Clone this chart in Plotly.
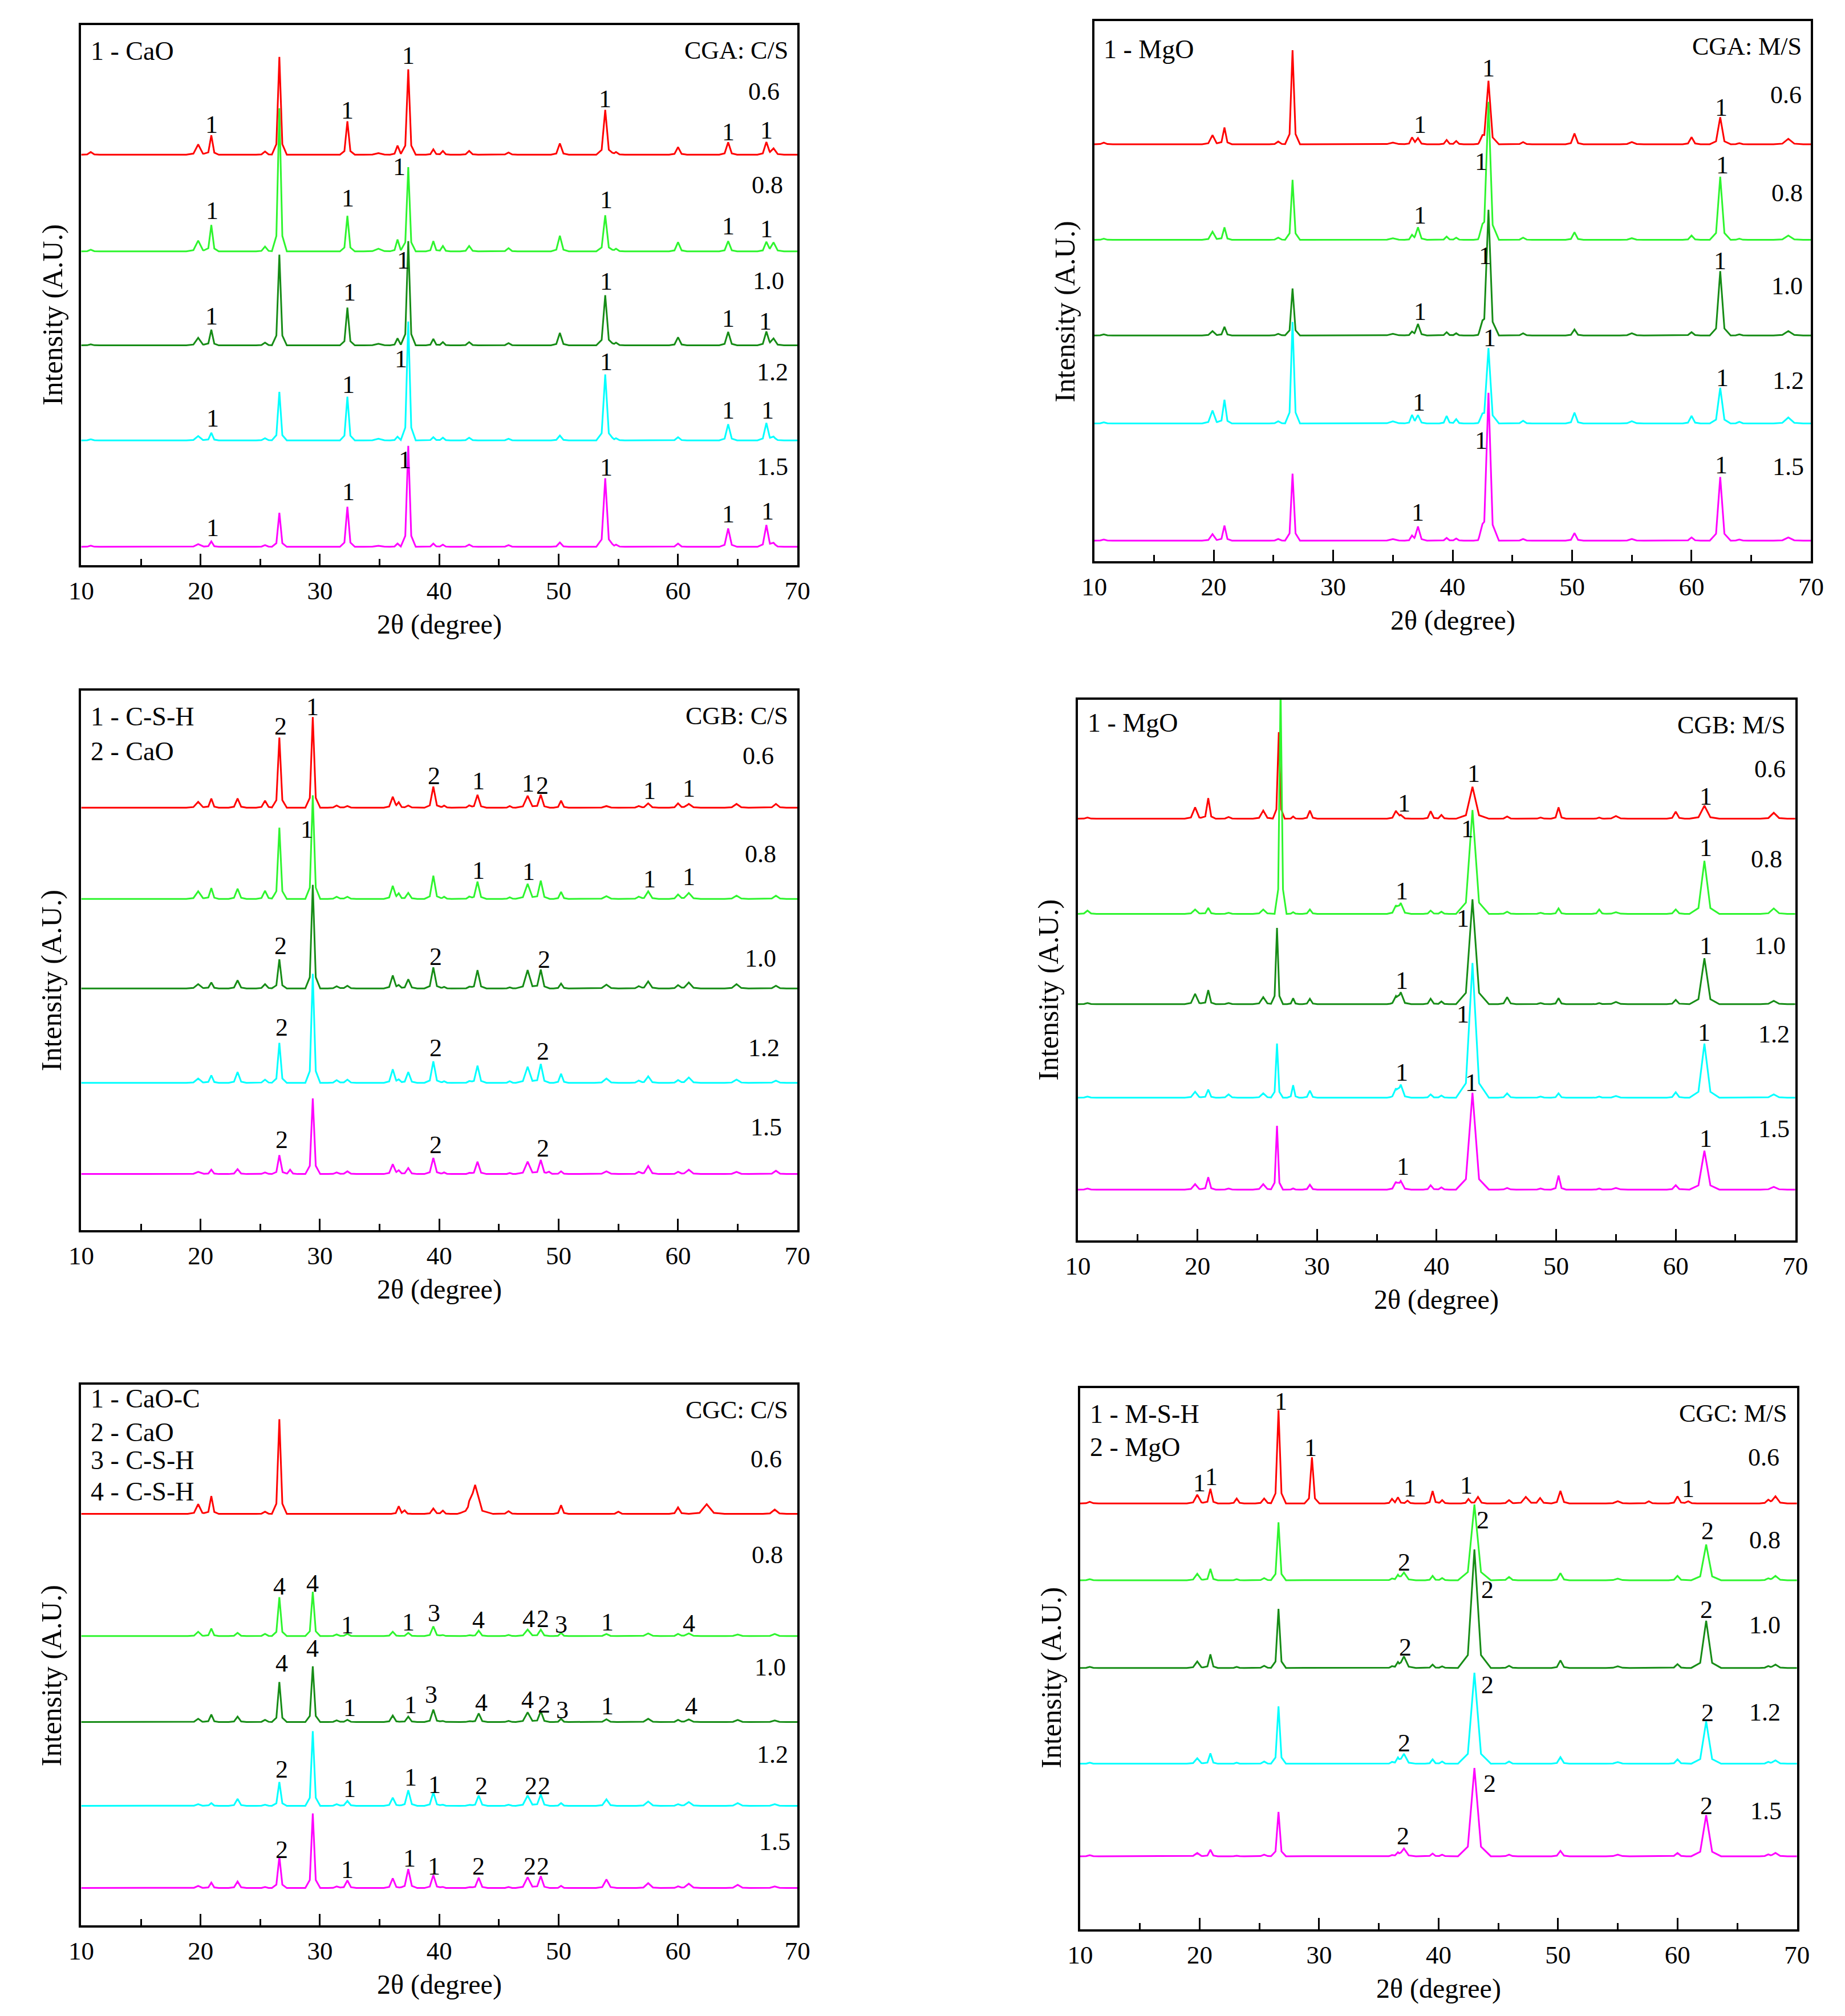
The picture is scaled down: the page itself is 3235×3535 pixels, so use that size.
import plotly.graph_objects as go

W, H = 3235, 3535
PAD = 8                      # default page margin of the html body
FW, FH = W - 2 * PAD, H - 2 * PAD
FONT = "Liberation Serif, Times New Roman, serif"

SERIES = ["0.6", "0.8", "1.0", "1.2", "1.5"]
COLORS = ["#FF0000", "#2EF52E", "#168C16", "#00FFFF", "#FF00FF"]

# ---------------- Panel A : CGA C/S ----------------
A_CS_POS = [10.8, 19.8, 20.9, 25.4, 26.6, 32.3, 34.9, 36.5, 37.4, 39.5, 40.3, 42.5, 45.8, 50.1, 53.9, 54.8, 60.0, 64.2, 67.4, 68.0]
A_CS_WID = [0.3, 0.4, 0.25, 0.3, 0.25, 0.25, 0.5, 0.25, 0.25, 0.25, 0.25, 0.3, 0.3, 0.3, 0.3, 0.3, 0.3, 0.3, 0.3, 0.35]
A_CS_OFF = [76.0, 58.1, 40.7, 23.1, 3.4]
A_CS_H = [
    [0.5, 1.9, 3.6, 0.6, 18.1, 6.2, 0.3, 1.7, 15.8, 1.0, 0.7, 0.7, 0.4, 2.1, 8.3, 0.5, 1.4, 2.3, 2.3, 1.1],
    [0.3, 2.0, 4.9, 0.9, 26.5, 6.6, 0.5, 2.2, 15.6, 1.9, 1.0, 1.0, 0.6, 2.9, 6.7, 0.5, 1.7, 1.9, 1.7, 1.6],
    [0.2, 1.4, 2.9, 0.5, 16.8, 7.0, 0.3, 1.3, 19.3, 1.2, 0.6, 0.6, 0.4, 2.3, 9.3, 0.5, 1.5, 2.5, 2.5, 1.2],
    [0.2, 0.8, 1.4, 0.4, 9.0, 8.1, 0.3, 0.7, 22.0, 0.6, 0.5, 0.5, 0.3, 0.9, 12.2, 0.4, 0.6, 3.0, 3.2, 0.6],
    [0.2, 0.5, 1.0, 0.3, 6.3, 7.4, 0.2, 0.6, 18.7, 0.6, 0.4, 0.4, 0.3, 0.8, 12.7, 0.4, 0.6, 3.4, 4.0, 0.6],
]
A_CS_LX = [20.9, 32.3, 37.4, 53.9, 64.2, 67.4, 20.96, 32.35, 36.65, 54.0, 64.2, 67.4,
           20.9, 32.5, 37.0, 54.0, 64.2, 67.3, 21.0, 32.4, 36.8, 54.0, 64.2, 67.5,
           21.0, 32.4, 37.1, 54.0, 64.2, 67.5]
A_CS_LY = [81.6, 84.2, 94.3, 86.3, 80.2, 80.5, 65.6, 67.9, 73.8, 67.6, 62.8, 62.2,
           46.1, 50.5, 56.4, 52.5, 45.7, 45.1, 27.2, 33.4, 38.2, 37.6, 28.7, 28.7,
           6.9, 13.6, 19.5, 18.1, 9.4, 10.0]
A_CS_LT = ["1"] * 30
A_CS_RX = [67.2, 67.5, 67.6, 67.9, 67.9]
A_CS_RY = [87.7, 70.4, 52.6, 35.7, 18.2]
A_CS_LEG = ["1 - CaO"]
A_CS_LEGY = [95.2]
A_CS_TITLE = "CGA: C/S"

# ---------------- Panel B : CGA M/S ----------------
A_MS_POS = [10.8, 19.9, 20.9, 25.4, 26.6, 35.0, 36.6, 37.1, 39.5, 40.3, 42.5, 43.0, 45.9, 50.2, 55.0, 60.0, 62.4, 64.0, 68.1]
A_MS_WID = [0.3, 0.35, 0.25, 0.3, 0.25, 0.5, 0.25, 0.3, 0.25, 0.25, 0.3, 0.35, 0.3, 0.3, 0.4, 0.3, 0.35, 0.3, 0.5]
A_MS_OFF = [77.2, 59.5, 41.8, 25.5, 3.8]
A_MS_H = [
    [0.3, 1.7, 3.1, 0.5, 17.4, 0.3, 1.2, 1.1, 0.8, 0.6, 0.8, 11.7, 0.4, 2.0, 0.4, 1.3, 5.0, 0.2, 1.0],
    [0.2, 1.5, 2.3, 0.4, 11.1, 0.3, 0.8, 2.3, 0.6, 0.4, 1.0, 25.5, 0.4, 1.4, 0.3, 0.8, 11.7, 0.2, 0.8],
    [0.2, 0.8, 1.6, 0.3, 8.7, 0.3, 0.6, 2.1, 0.6, 0.4, 1.0, 23.2, 0.4, 1.1, 0.4, 0.6, 11.9, 0.2, 0.8],
    [0.2, 2.4, 4.4, 0.4, 18.8, 0.4, 1.5, 1.5, 1.4, 0.8, 0.8, 13.9, 0.5, 2.0, 0.4, 1.4, 6.6, 0.3, 1.1],
    [0.2, 1.2, 2.8, 0.3, 12.4, 0.3, 0.8, 2.6, 0.5, 0.4, 1.0, 27.3, 0.3, 1.4, 0.3, 0.6, 11.8, 0.2, 0.6],
]
A_MS_LX = [37.3, 43.0, 62.5, 37.3, 42.4, 62.6, 37.3, 42.7, 62.4, 37.2, 43.1, 62.6, 37.1, 42.4, 62.5]
A_MS_LY = [80.8, 91.3, 84.0, 64.0, 74.0, 73.3, 46.2, 56.5, 55.6, 29.4, 41.3, 33.9, 9.0, 22.3, 17.8]
A_MS_LT = ["1"] * 15
A_MS_RX = [67.9, 68.0, 68.0, 68.1, 68.1]
A_MS_RY = [86.3, 68.2, 50.9, 33.4, 17.5]
A_MS_LEG = ["1 - MgO"]
A_MS_LEGY = [94.8]
A_MS_TITLE = "CGA: M/S"

# ---------------- Panel C : CGB C/S ----------------
B_CS_POS = [19.8, 20.9, 23.1, 25.4, 26.6, 27.5, 29.4, 31.4, 32.3, 36.1, 36.6, 37.4, 39.5, 40.4, 42.5, 43.2, 45.9, 47.4, 48.5, 49.2, 50.2, 54.0, 56.7, 57.5, 60.0, 60.9, 64.9, 68.2]
B_CS_WID = [0.4, 0.25, 0.3, 0.3, 0.25, 0.25, 0.25, 0.3, 0.3, 0.3, 0.25, 0.3, 0.3, 0.25, 0.25, 0.3, 0.25, 0.4, 0.3, 0.25, 0.25, 0.4, 0.3, 0.35, 0.3, 0.4, 0.4, 0.35]
B_CS_OFF = [78.3, 61.4, 44.8, 27.3, 10.4]
B_CS_H = [
    [1.1, 1.7, 1.7, 1.3, 13.0, 0.0, 16.8, 0.4, 0.3, 2.0, 0.9, 0.4, 3.9, 0.4, 0.4, 2.4, 0.3, 2.2, 2.4, 0.0, 1.3, 0.3, 0.3, 0.8, 0.8, 0.7, 0.7, 0.7],
    [1.4, 2.0, 1.9, 1.5, 13.2, 0.0, 19.2, 0.4, 0.4, 2.4, 0.9, 1.1, 4.3, 0.4, 0.4, 3.2, 0.3, 2.8, 3.4, 0.0, 1.3, 0.5, 0.4, 1.4, 0.8, 1.1, 0.6, 0.6],
    [0.8, 1.1, 1.5, 0.8, 5.4, 0.0, 19.2, 0.4, 0.5, 2.4, 0.5, 1.7, 3.9, 0.3, 0.3, 3.4, 0.2, 3.4, 3.5, 0.0, 0.9, 0.7, 0.4, 1.3, 0.6, 1.1, 0.8, 0.5],
    [0.8, 1.4, 2.0, 0.6, 7.4, 0.0, 20.2, 0.5, 0.6, 2.5, 0.5, 2.0, 4.0, 0.3, 0.3, 3.2, 0.3, 3.0, 3.5, 0.0, 1.7, 0.8, 0.4, 1.2, 0.5, 1.0, 0.6, 0.4],
    [0.4, 0.8, 0.9, 0.3, 3.5, 0.8, 14.0, 0.3, 0.5, 1.8, 0.6, 1.1, 3.0, 0.3, 0.2, 2.3, 0.2, 2.3, 2.6, 0.4, 0.5, 0.5, 0.4, 1.5, 0.4, 0.8, 0.4, 0.6],
]
B_CS_LX = [26.7, 29.4, 39.55, 43.3, 47.45, 48.65, 57.6, 60.9,
           28.9, 43.3, 47.5, 57.6, 60.9,
           26.7, 39.7, 48.8, 26.8, 39.7, 48.7, 26.8, 39.7, 48.7]
B_CS_LY = [93.4, 97.0, 84.2, 83.2, 82.8, 82.4, 81.4, 81.9,
           74.3, 66.6, 66.4, 65.1, 65.5,
           52.7, 50.7, 50.2, 37.6, 33.8, 33.1, 16.8, 15.8, 15.2]
B_CS_LT = ["2", "1", "2", "1", "1", "2", "1", "1",
           "1", "1", "1", "1", "1",
           "2", "2", "2", "2", "2", "2", "2", "2", "2"]
B_CS_RX = [66.7, 66.9, 66.9, 67.2, 67.4]
B_CS_RY = [87.9, 69.7, 50.4, 33.8, 19.1]
B_CS_LEG = ["1 - C-S-H", "2 - CaO"]
B_CS_LEGY = [95.2, 88.7]
B_CS_TITLE = "CGB: C/S"

# ---------------- Panel D : CGB M/S ----------------
B_MS_POS = [10.8, 19.8, 20.9, 22.6, 25.5, 26.65, 26.8, 26.95, 28.0, 29.4, 36.6, 37.0, 39.5, 40.4, 43.0, 45.9, 48.7, 50.2, 53.6, 55.0, 60.0, 62.4, 68.2]
B_MS_WID = [0.3, 0.35, 0.25, 0.3, 0.35, 0.2, 0.2, 0.2, 0.2, 0.25, 0.3, 0.35, 0.25, 0.25, 0.55, 0.3, 0.3, 0.25, 0.25, 0.4, 0.3, 0.5, 0.45]
B_MS_OFF = [78.0, 60.4, 43.7, 26.4, 9.4]
B_MS_H = [
    [0.2, 2.1, 3.8, 0.3, 1.5, 0.0, 16.0, 0.0, 0.4, 1.5, 1.4, 0.6, 1.4, 0.7, 5.9, 0.4, 0.2, 2.1, 0.2, 0.5, 1.3, 2.4, 1.1],
    [0.6, 0.8, 1.1, 0.2, 0.8, 0.0, 0.0, 42.0, 0.3, 0.8, 1.4, 1.9, 0.6, 0.4, 19.2, 0.4, 0.2, 1.0, 0.8, 0.3, 0.8, 9.8, 1.0],
    [0.2, 1.9, 2.6, 0.2, 1.3, 14.1, 0.0, 0.0, 1.1, 1.0, 1.3, 2.1, 1.0, 0.5, 19.4, 1.3, 0.2, 1.1, 0.2, 0.4, 0.8, 8.5, 0.6],
    [0.2, 1.1, 1.5, 0.6, 0.8, 10.0, 0.0, 0.0, 2.3, 1.3, 1.5, 2.3, 0.6, 0.4, 24.9, 0.8, 0.2, 0.8, 0.2, 0.3, 1.0, 10.0, 0.6],
    [0.2, 1.0, 2.3, 0.2, 1.0, 11.8, 0.0, 0.0, 0.2, 0.9, 1.3, 1.5, 0.8, 0.4, 17.9, 0.3, 0.2, 2.6, 0.2, 0.3, 0.8, 7.2, 0.5],
]
B_MS_LX = [37.3, 43.1, 62.5, 37.1, 42.6, 62.5, 37.1, 42.2, 62.5, 37.1, 42.2, 62.4, 37.2, 42.9, 62.5]
B_MS_LY = [80.9, 86.3, 82.1, 64.6, 76.1, 72.6, 48.0, 59.5, 54.5, 31.1, 41.8, 38.4, 13.7, 29.2, 18.8]
B_MS_LT = ["1"] * 15
B_MS_RX = [67.9, 67.6, 67.9, 68.2, 68.2]
B_MS_RY = [87.2, 70.5, 54.5, 38.1, 20.6]
B_MS_LEG = ["1 - MgO"]
B_MS_LEGY = [95.7]
B_MS_TITLE = "CGB: M/S"

# ---------------- Panel E : CGC C/S ----------------
C_CS_POS = [19.8, 20.9, 23.1, 25.4, 26.6, 29.4, 31.4, 32.3, 36.1, 36.6, 37.1, 37.4, 39.5, 40.3, 42.5, 43.0, 43.3, 45.8, 47.4, 48.5, 50.2, 54.0, 55.0, 57.5, 60.0, 60.9, 62.4, 65.0, 68.1]
C_CS_WID = [0.35, 0.25, 0.3, 0.3, 0.25, 0.25, 0.3, 0.3, 0.3, 0.25, 0.25, 0.3, 0.3, 0.25, 0.3, 0.6, 0.3, 0.3, 0.4, 0.3, 0.25, 0.35, 0.3, 0.4, 0.3, 0.4, 0.6, 0.4, 0.4]
C_CS_OFF = [76.1, 53.5, 37.6, 22.1, 6.9]
C_CS_H = [
    [1.8, 3.3, 0.0, 0.4, 17.5, 0.0, 0.0, 0.0, 0.0, 1.4, 0.6, 0.0, 1.0, 0.6, 1.0, 5.3, 0.0, 0.5, 0.0, 0.0, 1.6, 0.0, 0.4, 0.0, 1.2, 0.0, 1.8, 0.0, 0.8],
    [0.8, 1.4, 0.6, 0.4, 7.2, 8.2, 0.3, 0.4, 0.8, 0.0, 0.0, 0.6, 1.8, 0.2, 0.2, 0.0, 1.0, 0.2, 1.2, 1.2, 0.6, 0.4, 0.0, 0.5, 0.4, 0.5, 0.0, 0.3, 0.4],
    [0.6, 1.4, 1.0, 0.4, 7.4, 10.3, 0.3, 0.4, 1.2, 0.0, 0.0, 1.0, 2.3, 0.2, 0.2, 0.0, 1.6, 0.2, 1.8, 2.0, 0.6, 0.5, 0.0, 0.6, 0.4, 0.5, 0.0, 0.4, 0.3],
    [0.3, 0.5, 1.3, 0.2, 4.4, 13.8, 0.3, 0.9, 1.5, 0.0, 0.0, 2.9, 2.5, 0.2, 0.2, 0.0, 1.9, 0.2, 1.9, 2.1, 0.5, 1.2, 0.0, 0.8, 0.3, 0.7, 0.0, 0.5, 0.3],
    [0.4, 1.0, 1.2, 0.2, 5.8, 13.8, 0.3, 1.4, 1.8, 0.0, 0.0, 3.5, 2.4, 0.2, 0.2, 0.0, 1.9, 0.2, 2.0, 2.2, 0.4, 1.6, 0.0, 0.9, 0.3, 0.8, 0.0, 0.6, 0.3],
]
C_CS_LX = [26.6, 29.4, 32.3, 37.4, 39.55, 43.3, 47.5, 48.7, 50.2, 54.1, 60.9,
           26.8, 29.4, 32.5, 37.6, 39.3, 43.5, 47.4, 48.8, 50.3, 54.1, 61.1,
           26.8, 32.5, 37.6, 39.6, 43.5, 47.7, 48.8,
           26.8, 32.3, 37.5, 39.55, 43.3, 47.6, 48.7]
C_CS_LY = [62.7, 63.2, 55.5, 56.1, 57.8, 56.5, 56.7, 56.7, 55.6, 56.1, 55.9,
           48.5, 51.2, 40.2, 40.8, 42.7, 41.2, 41.7, 40.9, 39.8, 40.6, 40.6,
           28.9, 25.3, 27.4, 26.0, 25.8, 25.8, 25.8,
           14.0, 10.3, 12.4, 10.9, 10.9, 10.9, 10.9]
C_CS_LT = ["4", "4", "1", "1", "3", "4", "4", "2", "3", "1", "4",
           "4", "4", "1", "1", "3", "4", "4", "2", "3", "1", "4",
           "2", "1", "1", "1", "2", "2", "2",
           "2", "1", "1", "1", "2", "2", "2"]
C_CS_RX = [67.4, 67.5, 67.7, 67.9, 68.1]
C_CS_RY = [86.2, 68.5, 47.7, 31.6, 15.5]
C_CS_LEG = ["1 - CaO-C", "2 - CaO", "3 - C-S-H", "4 - C-S-H"]
C_CS_LEGY = [97.4, 91.2, 86.0, 80.2]
C_CS_TITLE = "CGC: C/S"

# ---------------- Panel F : CGC M/S ----------------
C_MS_POS = [10.8, 19.8, 20.9, 23.1, 25.4, 26.6, 29.4, 36.1, 36.6, 37.1, 37.4, 39.5, 40.3, 42.5, 43.0, 43.3, 45.9, 47.3, 48.5, 50.2, 55.0, 57.6, 60.0, 60.9, 62.4, 67.6, 68.2]
C_MS_WID = [0.3, 0.35, 0.25, 0.25, 0.3, 0.25, 0.25, 0.25, 0.25, 0.4, 0.25, 0.25, 0.25, 0.25, 0.55, 0.3, 0.3, 0.4, 0.3, 0.3, 0.4, 0.3, 0.3, 0.3, 0.5, 0.3, 0.4]
C_MS_OFF = [78.7, 64.5, 48.3, 30.6, 13.5]
C_MS_H = [
    [0.3, 1.6, 2.7, 0.9, 0.9, 17.2, 8.5, 0.8, 1.1, 0.0, 0.5, 2.3, 0.6, 0.8, 0.0, 1.2, 0.6, 1.2, 1.0, 2.3, 0.4, 0.4, 1.3, 0.4, 0.0, 0.6, 1.3],
    [0.2, 1.2, 2.1, 0.2, 0.4, 10.7, 0.0, 0.3, 0.9, 1.4, 0.0, 0.8, 0.4, 0.0, 14.0, 0.0, 0.6, 0.0, 0.0, 1.3, 0.3, 0.0, 0.8, 0.0, 6.6, 0.3, 0.8],
    [0.2, 1.2, 2.5, 0.2, 0.4, 10.9, 0.0, 0.3, 0.9, 2.1, 0.0, 0.6, 0.3, 0.0, 21.9, 0.0, 0.4, 0.0, 0.0, 1.4, 0.3, 0.0, 0.7, 0.0, 8.7, 0.3, 0.6],
    [0.2, 1.0, 1.9, 0.2, 0.4, 10.6, 0.0, 0.3, 1.0, 1.8, 0.0, 0.8, 0.4, 0.0, 16.8, 0.0, 0.4, 0.0, 0.0, 1.2, 0.3, 0.0, 0.8, 0.0, 7.8, 0.3, 0.6],
    [0.2, 0.6, 1.2, 0.1, 0.3, 8.2, 0.0, 0.2, 0.6, 1.4, 0.0, 0.5, 0.3, 0.0, 16.3, 0.0, 0.3, 0.0, 0.0, 1.0, 0.3, 0.0, 0.6, 0.0, 7.6, 0.3, 0.6],
]
C_MS_LX = [20.0, 21.0, 26.8, 29.3, 37.6, 42.3, 60.9,
           37.1, 43.7, 62.5, 37.2, 44.1, 62.4, 37.1, 44.1, 62.5, 37.0, 44.3, 62.4]
C_MS_LY = [82.5, 83.6, 97.5, 89.0, 81.5, 82.0, 81.4,
           67.8, 75.6, 73.6, 52.1, 62.8, 59.1, 34.4, 45.2, 40.0, 17.2, 26.9, 22.8]
C_MS_LT = ["1"] * 7 + ["2"] * 12
C_MS_RX = [67.2, 67.3, 67.3, 67.3, 67.4]
C_MS_RY = [87.2, 71.9, 56.2, 40.1, 21.9]
C_MS_LEG = ["1 - M-S-H", "2 - MgO"]
C_MS_LEGY = [95.2, 89.1]
C_MS_TITLE = "CGC: M/S"

X_TICKS = [10, 20, 30, 40, 50, 60, 70]
X_TITLE = "2θ (degree)"
Y_TITLE = "Intensity (A.U.)"

PANELS = [
    dict(pos=A_CS_POS, wid=A_CS_WID, off=A_CS_OFF, h=A_CS_H, lx=A_CS_LX, ly=A_CS_LY, lt=A_CS_LT,
         rx=A_CS_RX, ry=A_CS_RY, leg=A_CS_LEG, legy=A_CS_LEGY, title=A_CS_TITLE),
    dict(pos=A_MS_POS, wid=A_MS_WID, off=A_MS_OFF, h=A_MS_H, lx=A_MS_LX, ly=A_MS_LY, lt=A_MS_LT,
         rx=A_MS_RX, ry=A_MS_RY, leg=A_MS_LEG, legy=A_MS_LEGY, title=A_MS_TITLE),
    dict(pos=B_CS_POS, wid=B_CS_WID, off=B_CS_OFF, h=B_CS_H, lx=B_CS_LX, ly=B_CS_LY, lt=B_CS_LT,
         rx=B_CS_RX, ry=B_CS_RY, leg=B_CS_LEG, legy=B_CS_LEGY, title=B_CS_TITLE),
    dict(pos=B_MS_POS, wid=B_MS_WID, off=B_MS_OFF, h=B_MS_H, lx=B_MS_LX, ly=B_MS_LY, lt=B_MS_LT,
         rx=B_MS_RX, ry=B_MS_RY, leg=B_MS_LEG, legy=B_MS_LEGY, title=B_MS_TITLE),
    dict(pos=C_CS_POS, wid=C_CS_WID, off=C_CS_OFF, h=C_CS_H, lx=C_CS_LX, ly=C_CS_LY, lt=C_CS_LT,
         rx=C_CS_RX, ry=C_CS_RY, leg=C_CS_LEG, legy=C_CS_LEGY, title=C_CS_TITLE),
    dict(pos=C_MS_POS, wid=C_MS_WID, off=C_MS_OFF, h=C_MS_H, lx=C_MS_LX, ly=C_MS_LY, lt=C_MS_LT,
         rx=C_MS_RX, ry=C_MS_RY, leg=C_MS_LEG, legy=C_MS_LEGY, title=C_MS_TITLE),
]

# panel frames in page pixels: left, right, top, bottom ; y-title x ; y-title center y
FRAMES = [
    (121, 1395, 44, 991, 70, 552),
    (1923, 3198, 37, 984, 1871, 546),
    (121, 1395, 1211, 2157, 68, 1719),
    (1894, 3170, 1227, 2175, 1841, 1736),
    (121, 1395, 2428, 3376, 68, 2938),
    (1898, 3173, 2434, 3383, 1846, 2942),
]


def px_x(p):
    return (p - PAD) / FW


def px_y(p):
    return 1 - (p - PAD) / FH


def profile(pos, wid, hts, base):
    xs = {10.0, 70.0}
    for p, w, h in zip(pos, wid, hts):
        if h > 0:
            for k in (-2.5, -1.0, 0.0, 1.0, 2.5):
                xs.add(round(p + k * w, 4))
    xs = sorted(x for x in xs if 10.0 <= x <= 70.0)
    ys = []
    for x in xs:
        y = base
        for p, w, h in zip(pos, wid, hts):
            if h <= 0:
                continue
            d = abs(x - p)
            y += 0.82 * h * max(0.0, 1 - d / w) + 0.18 * h * max(0.0, 1 - d / (2.5 * w))
        ys.append(y)
    return xs, ys


fig = go.Figure()
annotations = []
layout = {}

for i, (pnl, fr) in enumerate(zip(PANELS, FRAMES)):
    n = "" if i == 0 else str(i + 1)
    xa, ya = "x" + n, "y" + n
    left, right, top, bottom, ytx, yty = fr
    for s, (name, col) in enumerate(zip(SERIES, COLORS)):
        xs, ys = profile(pnl["pos"], pnl["wid"], pnl["h"][s], pnl["off"][s])
        fig.add_trace(go.Scatter(x=xs, y=ys, mode="lines", name=name,
                                 line=dict(color=col, width=3),
                                 xaxis=xa, yaxis=ya, showlegend=False))
    axis_line = dict(showline=True, linecolor="black", linewidth=3.5, mirror=True,
                     showgrid=False, zeroline=False)
    layout["xaxis" + n] = dict(
        domain=[px_x(left), px_x(right)], anchor=ya, range=[10, 70],
        tickmode="array", tickvals=X_TICKS, ticktext=[str(t) for t in X_TICKS],
        ticks="inside", ticklen=20, tickwidth=3, tickcolor="black",
        minor=dict(dtick=5, tick0=10, ticks="inside", ticklen=11, tickwidth=3, tickcolor="black"),
        tickfont=dict(family=FONT, size=45, color="black"), ticklabelstandoff=2,
        **axis_line)
    layout["yaxis" + n] = dict(
        domain=[px_y(bottom), px_y(top)], anchor=xa, range=[0, 100],
        showticklabels=False, ticks="", **axis_line)

    tf = dict(family=FONT, size=44, color="black")
    for x, y, t in zip(pnl["lx"], pnl["ly"], pnl["lt"]):
        annotations.append(dict(x=x, y=y, xref=xa, yref=ya, text=t, showarrow=False,
                                xanchor="center", yanchor="middle", font=tf))
    for x, y, t in zip(pnl["rx"], pnl["ry"], SERIES):
        annotations.append(dict(x=x, y=y, xref=xa, yref=ya, text=t, showarrow=False,
                                xanchor="center", yanchor="middle", font=tf))
    for t, y in zip(pnl["leg"], pnl["legy"]):
        annotations.append(dict(x=10.7, y=y, xref=xa, yref=ya, text=t, showarrow=False,
                                xanchor="left", yanchor="middle",
                                font=dict(family=FONT, size=46, color="black")))
    annotations.append(dict(x=69.3, y=95.3, xref=xa, yref=ya, text=pnl["title"], showarrow=False,
                            xanchor="right", yanchor="middle", font=tf))
    # axis titles
    annotations.append(dict(x=px_x((left + right) / 2), y=px_y(bottom + 104), xref="paper", yref="paper",
                            text=X_TITLE, showarrow=False, xanchor="center", yanchor="middle",
                            font=dict(family=FONT, size=48, color="black")))
    annotations.append(dict(x=px_x(ytx), y=px_y(yty), xref="paper", yref="paper",
                            text=Y_TITLE, showarrow=False, textangle=-90,
                            xanchor="center", yanchor="middle",
                            font=dict(family=FONT, size=50, color="black")))

fig.update_layout(width=FW, height=FH, margin=dict(l=0, r=0, t=0, b=0),
                  paper_bgcolor="white", plot_bgcolor="white",
                  annotations=annotations, showlegend=False, **layout)

fig.write_html("out.html")
